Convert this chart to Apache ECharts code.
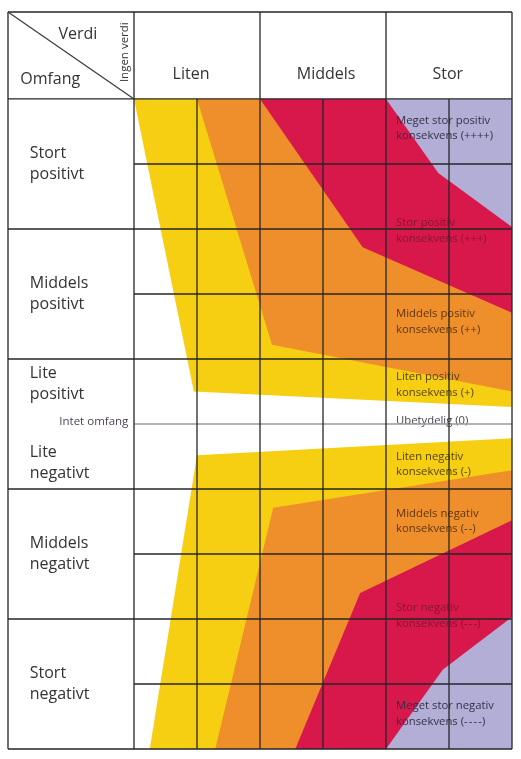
<!DOCTYPE html>
<html><head><meta charset="utf-8">
<script src="https://cdn.jsdelivr.net/npm/echarts@6/dist/echarts.min.js"></script>
<style>html,body{margin:0;padding:0;background:#fff}#c{width:521px;height:759px}</style>
</head><body><div id="c"></div>
<script>
// ---- Structure (x = verdi, y = omfang) ----
const valueCategories = ['Liten', 'Middels', 'Stor'];
const valueBounds = [0, 2, 4, 6];
const subColumns = [0, 1, 2, 3, 4, 5, 6];
const extentCategories = ['Stort\npositivt', 'Middels\npositivt', 'Lite\npositivt', 'Lite\nnegativt', 'Middels\nnegativt', 'Stort\nnegativt'];
const extentBounds = [5, 3, 1, -1, -3, -5];
const subRows = [4, 2, -2, -4];
const noExtentLabel = 'Intet omfang';
const noValueLabel = 'Ingen verdi';
const headerTexts = ['Verdi', 'Omfang'];
const consequenceLabels = [
  'Meget stor positiv\nkonsekvens (++++)',
  'Stor positiv\nkonsekvens (+++)',
  'Middels positiv\nkonsekvens (++)',
  'Liten positiv\nkonsekvens (+)',
  'Ubetydelig (0)',
  'Liten negativ\nkonsekvens (-)',
  'Middels negativ\nkonsekvens (-\u200A-)',
  'Stor negativ\nkonsekvens (-\u200A-\u200A-)',
  'Meget stor negativ\nkonsekvens (-\u200A-\u200A-\u200A-)'
];

// ---- Fan regions (in verdi/omfang units) ----
const yellowUpper = [[0, 5], [6, 5], [6, 0.26], [0.95, 0.5]];
const orangeUpper = [[1, 5], [6, 5], [6, 0.5], [2.19, 1.22]];
const redUpper    = [[2, 5], [6, 5], [6, 1.71], [3.63, 2.72]];
const purpleUpper = [[4, 5], [6, 5], [6, 3.03], [4.83, 3.86]];
const yellowLower = [[1, -0.48], [6, -0.22], [6, -5], [0.25, -5]];
const orangeLower = [[2.21, -1.29], [6, -0.71], [6, -5], [1.29, -5]];
const redLower    = [[3.59, -2.6], [6, -1.48], [6, -5], [2.56, -5]];
const purpleLower = [[4, -5], [4.9, -3.78], [6, -2.97], [6, -5]];

// ---- styles / layout (kept apart from data) ----
const C = { yellow: '#F6CF12', orange: '#EE8F2B', red: '#D8174A', purple: '#B3AED6' };
const regions = [
  [yellowUpper, C.yellow], [yellowLower, C.yellow],
  [orangeUpper, C.orange], [orangeLower, C.orange],
  [redUpper, C.red], [redLower, C.red],
  [purpleUpper, C.purple], [purpleLower, C.purple]
];
const XMIN = -2, XMAX = 6, YMIN = -5, YTOP = 6.338;
const FONT = '"Open Sans", "Noto Sans", sans-serif';

// grid segments
const segs = [];
const LINE = '#262626';
const LW = 1.3;
segs.push([XMIN, YTOP, XMAX, YTOP, LINE, LW]);
extentBounds.forEach(y => segs.push([XMIN, y, XMAX, y, LINE, LW]));
subRows.forEach(y => segs.push([0, y, XMAX, y, LINE, LW]));
segs.push([0, 0, XMAX, 0, '#9a9a9a', 1.5]);
[XMIN].concat(subColumns).forEach(x => segs.push([x, YMIN, x, 5, LINE, LW]));
[XMIN].concat(valueBounds).forEach(x => segs.push([x, 5, x, YTOP, LINE, LW]));
segs.push([XMIN, YTOP, 0, 5, '#3a3a3a', 1.2]);

// texts
const texts = [];
const rowLabelY = [4, 2, 0.62, -0.6, -2, -4];
extentCategories.forEach((t, i) => texts.push({ t, x: -1.655, y: rowLabelY[i], size: 16, lh: 21, align: 'left', color: '#333' }));
const headX = [0.905, 3.05, 4.98];
valueCategories.forEach((t, i) => texts.push({ t, x: headX[i], y: 5.37, size: 16, lh: 20, align: 'center', color: '#333' }));
texts.push({ t: headerTexts[0], x: -0.89, y: 6.0, size: 16, lh: 20, align: 'center', color: '#333' });
texts.push({ t: headerTexts[1], x: -1.33, y: 5.3, size: 16, lh: 20, align: 'center', color: '#333' });
texts.push({ t: noValueLabel, x: -0.14, y: 5.72, size: 11.5, lh: 14, align: 'center', color: '#333', rot: Math.PI / 2 });
texts.push({ t: noExtentLabel, x: -0.09, y: 0.03, size: 11.5, lh: 14, align: 'right', color: '#4b3f57' });
const consY = [4.55, 2.97, 1.57, 0.6, 0.05, -0.62, -1.5, -2.95, -4.46];
const consColor = ['#342f48', '#851637', '#5f3510', '#54420a', '#45454f', '#54420a', '#5f3510', '#851637', '#342f48'];
consequenceLabels.forEach((t, i) => texts.push({ t, x: 4.16, y: consY[i], size: 11.3, lh: 15.5, align: 'left', color: consColor[i] }));

const chart = echarts.init(document.getElementById('c'), null, { renderer: 'canvas' });
chart.setOption({
  animation: false,
  grid: { left: 8, right: 9, top: 12, bottom: 10, containLabel: false },
  xAxis: { type: 'value', min: XMIN, max: XMAX, show: false },
  yAxis: { type: 'value', min: YMIN, max: YTOP, show: false },
  series: [
    {
      type: 'custom', z: 1, clip: false,
      data: regions.map((r, i) => [i]),
      renderItem: (p, api) => {
        const r = regions[p.dataIndex];
        return { type: 'polygon', shape: { points: r[0].map(pt => api.coord(pt)) }, style: { fill: r[1] } };
      }
    },
    {
      type: 'custom', z: 2, clip: false,
      data: texts.map((t, i) => [i]),
      renderItem: (p, api) => {
        const t = texts[p.dataIndex];
        const c = api.coord([t.x, t.y]);
        return {
          type: 'text', x: c[0], y: c[1], rotation: t.rot || 0,
          style: { text: t.t, x: 0, y: 0, fill: t.color, fontSize: t.size, fontFamily: FONT, lineHeight: t.lh, align: t.align, verticalAlign: 'middle' }
        };
      }
    },
    {
      type: 'custom', z: 3, clip: false,
      data: segs.map((s, i) => [i]),
      renderItem: (p, api) => {
        const s = segs[p.dataIndex];
        const a = api.coord([s[0], s[1]]), b = api.coord([s[2], s[3]]);
        return { type: 'line', shape: { x1: a[0], y1: a[1], x2: b[0], y2: b[1] }, style: { stroke: s[4], lineWidth: s[5] } };
      }
    }
  ]
});
</script></body></html>
